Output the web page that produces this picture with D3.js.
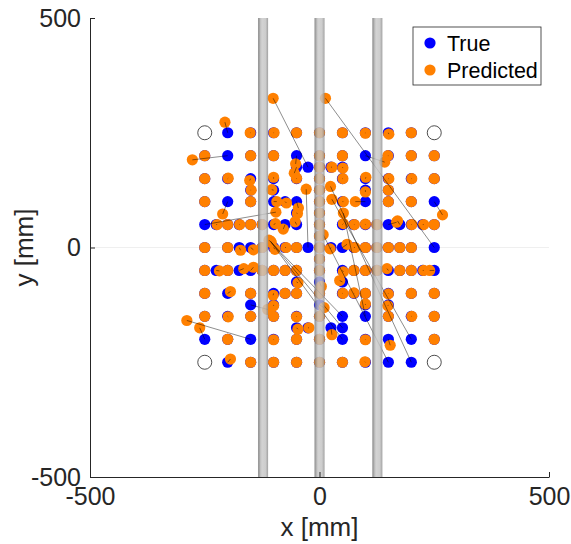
<!DOCTYPE html>
<html>
<head>
<meta charset="utf-8">
<script src="https://cdn.jsdelivr.net/npm/d3@7"></script>
<style>
  html, body { margin: 0; padding: 0; background: #fff; }
  svg { display: block; font-family: "Liberation Sans", Arial, Helvetica, sans-serif; }
</style>
</head>
<body>
<svg id="chart" width="571" height="544"></svg>
<script>
// True source positions and predicted positions (mm), one entry per pair.
const trueX = [
  -200,-150,-100,-50,0,50,100,150,200,
  -250,-200,-150,-100,-50,0,50,100,150,200,250,
  -50,-25,0,25,50,
  -250,-200,-150,-100,-50,0,50,100,150,200,250,
  -150,-100,0,100,150,
  -250,-200,-150,-100,-75,-50,0,50,100,150,200,250,
  -50,0,
  -250,-225,-200,-175,-150,-125,-100,-75,-50,0,50,75,100,125,150,175,200,225,250,
  0,
  -250,-200,-175,-150,-125,-100,-75,-50,-25,0,25,50,75,100,125,150,175,200,250,
  0,
  -250,-225,-200,-175,-150,-125,-100,-75,-50,0,50,75,100,125,150,175,200,225,250,
  -50,0,50,
  -250,-200,-150,-100,-75,-50,0,50,75,100,150,200,250,
  -150,-100,0,100,150,
  -250,-200,-150,-100,-50,0,50,100,150,200,250,
  -50,-25,25,50,
  -250,-200,-150,-100,-50,0,50,100,150,200,250,
  -200,-150,-100,-50,0,50,100,150,200
];
const trueY = [
  250,250,250,250,250,250,250,250,250,
  200,200,200,200,200,200,200,200,200,200,200,
  175,175,175,175,175,
  150,150,150,150,150,150,150,150,150,150,150,
  125,125,125,125,125,
  100,100,100,100,100,100,100,100,100,100,100,100,
  75,75,
  50,50,50,50,50,50,50,50,50,50,50,50,50,50,50,50,50,50,50,
  25,
  0,0,0,0,0,0,0,0,0,0,0,0,0,0,0,0,0,0,0,
  -25,
  -50,-50,-50,-50,-50,-50,-50,-50,-50,-50,-50,-50,-50,-50,-50,-50,-50,-50,-50,
  -75,-75,-75,
  -100,-100,-100,-100,-100,-100,-100,-100,-100,-100,-100,-100,-100,
  -125,-125,-125,-125,-125,
  -150,-150,-150,-150,-150,-150,-150,-150,-150,-150,-150,
  -175,-175,-175,-175,
  -200,-200,-200,-200,-200,-200,-200,-200,-200,-200,-200,
  -250,-250,-250,-250,-250,-250,-250,-250,-250
];
const predX = [
  -206,-151,-99,-50,0,50,100,151,200,
  -250,-277,-150,-100,-52,0,50,142,149,200,250,
  -55,-101,0,27,51,
  -250,-199,-152,-100,-50,0,51,101,151,201,250,
  -149,-104,0,100,150,
  -250,-211,-150,-93,-72,-46,0,52,78,150,200,268,
  -48,0,
  -95,-223,-200,-174,-150,-125,-96,-79,-53,0,52,76,100,125,168,170,201,227,250,
  0,
  -250,-200,-172,-144,-125,-97,-73,-50,-29,0,23,60,77,100,125,150,175,200,13,
  0,
  -250,-218,-200,-165,-144,-125,-100,-75,-50,0,52,75,100,125,147,175,200,227,240,
  -47,4,44,
  -250,-194,-150,-101,-75,-50,0,51,75,100,150,200,250,
  -113,-100,10,100,149,
  -250,-199,-150,-100,-50,0,-110,52,150,201,250,
  -47,-23,27,-107,
  -261,-200,-289,-100,-50,0,-105,100,154,27,250,
  -194,-150,-100,-50,0,50,99,8,24
];
const predY = [
  273,250,250,250,250,250,249,247,250,
  200,191,200,200,182,200,200,186,200,200,200,
  162,325,175,175,173,
  150,151,146,153,151,150,150,153,150,150,150,
  125,126,125,121,125,
  100,73,100,100,97,86,100,100,100,100,100,71,
  74,75,
  77,50,50,50,50,50,52,40,56,50,52,50,51,50,55,58,50,50,50,
  25,
  0,0,-6,-5,0,-4,0,0,127,0,-3,7,0,0,0,0,0,0,325,
  -25,
  -50,-51,-50,-46,-43,-50,-50,-50,-50,-50,-53,-50,-50,-50,-46,-50,-50,-50,-50,
  -77,-85,-72,
  -100,-96,-100,-104,-100,-100,-100,-100,-99,-100,-101,-100,-100,
  -135,-127,-131,-123,-127,
  -150,-151,-150,-150,-151,-150,16,75,-150,-150,-150,
  -178,-175,-190,14,
  -175,-200,-159,-201,-200,-200,11,-201,-213,105,-200,
  -243,-250,-250,-250,-250,-250,-249,28,133
];

// Corner reference positions drawn as open circles
const cornerX = [-250, 250, -250, 250];
const cornerY = [250, 250, -250, -250];

// Pipe centre lines (mm) and pipe diameter (mm)
const pipeX = [-123, 0, 126];
const pipeDiameter = 22;

// Axis ticks
const xTicks = [-500, 0, 500];
const xTickLabels = ["-500", "0", "500"];
const yTicks = [-500, 0, 500];
const yTickLabels = ["-500", "0", "500"];

const seriesNames = ["True", "Predicted"];
const seriesColors = ["#0000ff", "#ff8000"];

const svg = d3.select("#chart");
const x = d3.scaleLinear().domain([-500, 500]).range([90, 549]);
const y = d3.scaleLinear().domain([-500, 500]).range([477, 18]);

const defs = svg.append("defs");
const grad = defs.append("linearGradient").attr("id", "pipeGrad")
  .attr("x1", "0%").attr("x2", "100%").attr("y1", "0%").attr("y2", "0%");
[["0%", "#7d7d7d"], ["14%", "#909090"], ["26%", "#b9b9b9"], ["42%", "#c9c9c9"],
 ["74%", "#c2c2c2"], ["90%", "#a3a3a3"], ["100%", "#8a8a8a"]].forEach(([o, c]) =>
  grad.append("stop").attr("offset", o).attr("stop-color", c));

// faint zero line
svg.append("line")
  .attr("x1", x(-500)).attr("x2", x(500))
  .attr("y1", y(0)).attr("y2", y(0))
  .attr("stroke", "#efefef").attr("stroke-width", 1);

const pairs = trueX.map((d, i) => ({ tx: d, ty: trueY[i], px: predX[i], py: predY[i] }));
const R = 5.6;

// corner circles
svg.append("g").selectAll("circle").data(cornerX).join("circle")
  .attr("cx", d => x(d)).attr("cy", (d, i) => y(cornerY[i]))
  .attr("r", 7).attr("fill", "#fff").attr("stroke", "#3a3a3a").attr("stroke-width", 0.9);

// true positions
svg.append("g").selectAll("circle").data(pairs).join("circle")
  .attr("cx", d => x(d.tx)).attr("cy", d => y(d.ty)).attr("r", R)
  .attr("fill", seriesColors[0]);

// predicted positions
svg.append("g").selectAll("circle").data(pairs).join("circle")
  .attr("cx", d => x(d.px)).attr("cy", d => y(d.py)).attr("r", R)
  .attr("fill", seriesColors[1]);

// error lines from true to predicted
svg.append("g").selectAll("line").data(pairs).join("line")
  .attr("x1", d => x(d.tx)).attr("y1", d => y(d.ty))
  .attr("x2", d => x(d.px)).attr("y2", d => y(d.py))
  .attr("stroke", "#000").attr("stroke-width", 0.6).attr("stroke-opacity", 0.75);

// pipes
svg.append("g").selectAll("rect").data(pipeX).join("rect")
  .attr("x", d => x(d - pipeDiameter / 2))
  .attr("width", d => x(d + pipeDiameter / 2) - x(d - pipeDiameter / 2))
  .attr("y", y(500)).attr("height", y(-500) - y(500))
  .attr("fill", "url(#pipeGrad)").attr("opacity", 0.82);

// axes
const axisColor = "#262626";
const gx = svg.append("g").attr("transform", `translate(0,${y(-500)})`)
  .call(d3.axisBottom(x).tickValues(xTicks).tickFormat((d, i) => xTickLabels[i])
    .tickSizeInner(-5).tickSizeOuter(0).tickPadding(10));
const gy = svg.append("g").attr("transform", `translate(${x(-500)},0)`)
  .call(d3.axisLeft(y).tickValues(yTicks).tickFormat((d, i) => yTickLabels[i])
    .tickSizeInner(-5).tickSizeOuter(0).tickPadding(9));
[gx, gy].forEach(g => {
  g.select(".domain").attr("stroke", axisColor).attr("stroke-width", 1);
  g.selectAll(".tick line").attr("stroke", axisColor);
  g.selectAll(".tick text").attr("fill", axisColor)
    .style("font-size", "25px").style("font-family", '"Liberation Sans", Arial, sans-serif');
});

svg.append("text").attr("x", x(0)).attr("y", 536).attr("text-anchor", "middle")
  .attr("fill", axisColor).style("font-size", "26px").text("x [mm]");
svg.append("text").attr("transform", `translate(33,${y(0)}) rotate(-90)`)
  .attr("text-anchor", "middle").attr("fill", axisColor)
  .style("font-size", "26px").text("y [mm]");

// legend
const lg = svg.append("g");
lg.append("rect").attr("x", 413).attr("y", 27).attr("width", 128).attr("height", 58)
  .attr("fill", "#fff").attr("stroke", axisColor).attr("stroke-width", 0.8);
seriesNames.forEach((name, i) => {
  lg.append("circle").attr("cx", 430).attr("cy", 43 + i * 27).attr("r", R)
    .attr("fill", seriesColors[i]);
  lg.append("text").attr("x", 447).attr("y", 43 + i * 27).attr("dy", "0.35em")
    .attr("fill", "#000").style("font-size", "21.5px").text(name);
});
</script>
</body>
</html>
